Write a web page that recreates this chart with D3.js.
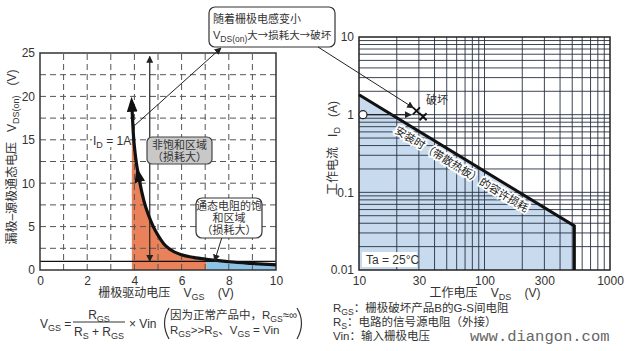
<!DOCTYPE html>
<html>
<head>
<meta charset="utf-8">
<script src="https://cdn.jsdelivr.net/npm/d3@7"></script>
<style>
  body { margin: 0; background: #fff; }
  svg { display: block; font-family: "Liberation Sans", "Noto Sans CJK SC", sans-serif; }
  svg text { white-space: pre; }
</style>
</head>
<body>
<svg width="625" height="351"></svg>
<script>
// left chart: VDS(on) vs VGS
const leftXTicks = [0, 2, 4, 6, 8, 10];
const leftYTicks = [0, 5, 10, 15, 20, 25];
const leftXGrid = [1, 2, 3, 4, 5, 6, 7, 8, 9];
const leftYGrid = [2.5, 5, 7.5, 10, 12.5, 15, 17.5, 20, 22.5];
const curveVGS = [3.9, 3.96, 4.05, 4.2, 4.4, 4.6, 4.8, 5.0, 5.25, 5.5, 6.0, 6.5, 7.0, 7.5, 8.0, 9.0, 10.0];
const curveVDS = [18.6, 15.5, 13, 10.5, 8, 6.3, 5, 4, 3, 2.4, 1.75, 1.45, 1.25, 1.1, 0.95, 0.75, 0.6];
const orangeRange = [3.88, 7.06];
const blueRange = [7.06, 10];
const orangeTop = 15.3;
const refLine = 1;       // solid horizontal line
const swingVGS = 4.65;   // double arrow
const swingVDS = [1, 24.6];

// right chart: safe operating area
const rightXTicks = [10, 30, 100, 300, 1000];
const rightYTicks = [0.01, 0.1, 1, 10];
const soaV = [10, 520, 520];
const soaI = [1.8, 0.037, 0.01];
const startPoint = [10, 1];
const arrowEndV = 26;
const breakV = [28.7, 32.4];
const breakI = [1.12, 0.94];

const svg = d3.select("svg");
const ink = "#333";

const defs = svg.append("defs");
defs.append("marker").attr("id", "ah")
    .attr("viewBox", "0 0 10 10").attr("refX", 9).attr("refY", 5)
    .attr("markerWidth", 7).attr("markerHeight", 7)
    .attr("markerUnits", "userSpaceOnUse")
    .attr("orient", "auto-start-reverse")
  .append("path").attr("d", "M0,0L10,5L0,10z").attr("fill", "#222");
defs.append("marker").attr("id", "ahBig")
    .attr("viewBox", "0 0 14 10").attr("refX", 3).attr("refY", 5)
    .attr("markerWidth", 15).attr("markerHeight", 11)
    .attr("markerUnits", "userSpaceOnUse")
    .attr("orient", "auto-start-reverse")
  .append("path").attr("d", "M0,0L14,5L0,10z").attr("fill", "#111");

// ---------- left chart ----------
const xL = d3.scaleLinear().domain([0, 10]).range([40, 276]);
const yL = d3.scaleLinear().domain([0, 25]).range([270, 53]);

const curve = curveVGS.map((v, i) => ({x: v, y: curveVDS[i]}));

defs.append("clipPath").attr("id", "clipOrange")
  .append("rect")
    .attr("x", xL(orangeRange[0])).attr("y", yL(orangeTop))
    .attr("width", xL(orangeRange[1]) - xL(orangeRange[0]))
    .attr("height", yL(0) - yL(orangeTop));
defs.append("clipPath").attr("id", "clipBlue")
  .append("rect")
    .attr("x", xL(blueRange[0])).attr("y", yL(25))
    .attr("width", xL(blueRange[1]) - xL(blueRange[0]))
    .attr("height", yL(0) - yL(25));

const areaL = d3.area()
    .x(d => xL(d.x)).y0(yL(0)).y1(d => yL(d.y))
    .curve(d3.curveMonotoneX);
const fillCurve = [{x: orangeRange[0], y: curve[0].y}].concat(curve);

svg.append("path").datum(fillCurve)
    .attr("d", areaL).attr("fill", "#e9825a")
    .attr("clip-path", "url(#clipOrange)");
svg.append("path").datum(fillCurve)
    .attr("d", areaL).attr("fill", "#8ec3e8")
    .attr("clip-path", "url(#clipBlue)");

// dashed grid
svg.append("g").selectAll("line").data(leftXGrid).join("line")
    .attr("x1", d => xL(d)).attr("x2", d => xL(d))
    .attr("y1", yL(0)).attr("y2", yL(25))
    .attr("stroke", "#555").attr("stroke-dasharray", "6,4").attr("stroke-width", 1);
svg.append("g").selectAll("line").data(leftYGrid).join("line")
    .attr("y1", d => yL(d)).attr("y2", d => yL(d))
    .attr("x1", xL(0)).attr("x2", xL(10))
    .attr("stroke", "#555").attr("stroke-dasharray", "6,4").attr("stroke-width", 1);

// reference line at 1 V
svg.append("line")
    .attr("x1", xL(0)).attr("x2", xL(10))
    .attr("y1", yL(refLine)).attr("y2", yL(refLine))
    .attr("stroke", "#111").attr("stroke-width", 1.2);

// frame
svg.append("rect")
    .attr("x", xL(0)).attr("y", yL(25))
    .attr("width", xL(10) - xL(0)).attr("height", yL(0) - yL(25))
    .attr("fill", "none").attr("stroke", ink).attr("stroke-width", 1.5);

// axes
const axL = svg.append("g").attr("transform", `translate(${xL(0)},0)`)
    .call(d3.axisLeft(yL).tickValues(leftYTicks).tickSize(0).tickPadding(5));
const axB = svg.append("g").attr("transform", `translate(0,${yL(0)})`)
    .call(d3.axisBottom(xL).tickValues(leftXTicks).tickSize(0).tickPadding(6));
[axL, axB].forEach(a => {
  a.select(".domain").remove();
  a.selectAll("text").attr("font-size", 12).attr("fill", ink)
    .attr("font-family", "Liberation Sans");
});

// double arrow (swing)
svg.append("line")
    .attr("x1", xL(swingVGS)).attr("x2", xL(swingVGS))
    .attr("y1", yL(swingVDS[0])).attr("y2", yL(swingVDS[1]))
    .attr("stroke", "#222").attr("stroke-width", 1.2)
    .attr("marker-start", "url(#ah)").attr("marker-end", "url(#ah)");

// thick curve with arrowhead at top
const lineL = d3.line().x(d => xL(d.x)).y(d => yL(d.y)).curve(d3.curveMonotoneX);
svg.append("path").datum(curve)
    .attr("d", lineL).attr("fill", "none")
    .attr("stroke", "#111").attr("stroke-width", 3.2)
    .attr("marker-start", "url(#ahBig)");
// mid arrowhead
svg.append("path").datum([curve[4], curve[3]])
    .attr("d", d3.line().x(d => xL(d.x)).y(d => yL(d.y)))
    .attr("fill", "none").attr("stroke", "none")
    .attr("marker-end", "url(#ahBig)");

// I_D = 1A label
svg.append("rect").attr("x", 92).attr("y", 134).attr("width", 38).attr("height", 13).attr("fill", "#fff");
const idl = svg.append("text").attr("x", 93).attr("y", 145).attr("font-size", 12).attr("fill", ink);
idl.append("tspan").text("I");
idl.append("tspan").attr("dy", 3).attr("font-size", 9).text("D");
idl.append("tspan").attr("dy", -3).text(" = 1A");

// callout: top box
svg.append("line")
    .attr("x1", xL(4.03)).attr("y1", yL(16.7))
    .attr("x2", 221).attr("y2", 48)
    .attr("stroke", "#222").attr("stroke-width", 1)
    .attr("marker-end", "url(#ah)");
svg.append("rect").attr("x", 209).attr("y", 7).attr("width", 126).attr("height", 40)
    .attr("rx", 6).attr("fill", "#fff").attr("stroke", ink).attr("stroke-width", 1.2);
svg.append("text").attr("x", 213).attr("y", 23).attr("font-size", 11).attr("fill", ink)
    .text("随着栅极电感变小");
const t2 = svg.append("text").attr("x", 213).attr("y", 39).attr("font-size", 11).attr("fill", ink);
t2.append("tspan").text("V");
t2.append("tspan").attr("dy", 3).attr("font-size", 8.5).text("DS(on)");
t2.append("tspan").attr("dy", -3).attr("font-family", "Noto Sans CJK SC").attr("font-size", 10.5)
    .text("大→损耗大→破坏");

// gray box
svg.append("rect").attr("x", 147).attr("y", 137).attr("width", 65).attr("height", 27)
    .attr("rx", 5).attr("fill", "#c8c8c8").attr("stroke", "#444").attr("stroke-width", 1.2);
svg.append("text").attr("x", 179.5).attr("y", 149).attr("text-anchor", "middle")
    .attr("font-size", 11).attr("fill", ink).text("非饱和区域");
svg.append("text").attr("x", 179.5).attr("y", 161).attr("text-anchor", "middle")
    .attr("font-size", 11).attr("fill", ink).text("（损耗大）");

// white box 2
svg.append("line")
    .attr("x1", 222).attr("y1", 237).attr("x2", xL(7.4)).attr("y2", yL(1.05))
    .attr("stroke", "#222").attr("stroke-width", 1)
    .attr("marker-end", "url(#ah)");
svg.append("rect").attr("x", 196).attr("y", 198).attr("width", 66).attr("height", 40)
    .attr("rx", 6).attr("fill", "#fff").attr("stroke", ink).attr("stroke-width", 1.2);
["通态电阻的饱", "和区域", "（损耗大）"].forEach((s, i) => {
  svg.append("text").attr("x", 229).attr("y", 210 + i * 12).attr("text-anchor", "middle")
      .attr("font-size", 11).attr("fill", ink).text(s);
});

// left axis titles
const ylab = svg.append("text")
    .attr("transform", "translate(16,157) rotate(-90)")
    .attr("text-anchor", "middle").attr("font-size", 12).attr("fill", ink);
ylab.append("tspan").text("漏极–源极通态电压   V");
ylab.append("tspan").attr("dy", 3).attr("font-size", 9).text("DS(on)");
ylab.append("tspan").attr("dy", -3).text("   (V)");

const xlab = svg.append("text").attr("x", 166).attr("y", 297)
    .attr("text-anchor", "middle").attr("font-size", 12).attr("fill", ink);
xlab.append("tspan").text("栅极驱动电压    V");
xlab.append("tspan").attr("dy", 2.5).attr("font-size", 9).text("GS");
xlab.append("tspan").attr("dy", -2.5).text("    (V)");

// formula
function subText(x, y, parts, anchor, size) {
  const fs = size || 12;
  const t = svg.append("text").attr("x", x).attr("y", y).attr("font-size", fs)
      .attr("fill", ink).attr("text-anchor", anchor || "start");
  let down = false;
  parts.forEach(p => {
    if (p[1]) {
      t.append("tspan").attr("dy", 3).attr("font-size", fs * 0.75).text(p[0]);
      down = true;
    } else {
      t.append("tspan").attr("dy", down ? -3 : 0).text(p[0]);
      down = false;
    }
  });
  return t;
}
subText(40, 328, [["V"], ["GS", 1], [" ="]]);
subText(99, 319, [["R"], ["GS", 1]], "middle");
svg.append("line").attr("x1", 73).attr("x2", 125).attr("y1", 322).attr("y2", 322)
    .attr("stroke", ink).attr("stroke-width", 1);
subText(99, 336, [["R"], ["S", 1], [" + R"], ["GS", 1]], "middle");
subText(129, 328, [["× Vin"]]);
svg.append("path").attr("d", "M169,308 Q160,323 169,339").attr("fill", "none")
    .attr("stroke", ink).attr("stroke-width", 1.2);
svg.append("path").attr("d", "M297,308 Q306,323 297,339").attr("fill", "none")
    .attr("stroke", ink).attr("stroke-width", 1.2);
subText(170, 319, [["因为正常产品中，R"], ["GS", 1], ["≈∞"]], "start", 11.5);
subText(170, 334, [["R"], ["GS", 1], [">>R"], ["S", 1], ["、V"], ["GS", 1], [" = Vin"]], "start", 11.5);

// ---------- right chart ----------
const xR = d3.scaleLog().domain([10, 1000]).range([359, 610]);
const yR = d3.scaleLog().domain([0.01, 10]).range([270, 37]);
const soa = soaV.map((v, i) => ({v: v, i: soaI[i]}));

// blue fill
const fillPts = [{v: 10, i: 0.01}].concat(soa);
svg.append("path").datum(fillPts)
    .attr("d", d3.line().x(d => xR(d.v)).y(d => yR(d.i)))
    .attr("fill", "#c8dbee");

// log grid
const gridX = [], gridY = [];
[10, 100].forEach(b => d3.range(2, 10).forEach(k => gridX.push(b * k)));
[0.01, 0.1, 1].forEach(b => d3.range(2, 10).forEach(k => gridY.push(b * k)));
gridX.push(100); gridY.push(0.1, 1);
svg.append("g").selectAll("line").data(gridX).join("line")
    .attr("x1", d => xR(d)).attr("x2", d => xR(d))
    .attr("y1", yR(0.01)).attr("y2", yR(10))
    .attr("stroke", "#26303f").attr("stroke-width", 0.9);
svg.append("g").selectAll("line").data(gridY).join("line")
    .attr("y1", d => yR(d)).attr("y2", d => yR(d))
    .attr("x1", xR(10)).attr("x2", xR(1000))
    .attr("stroke", "#26303f").attr("stroke-width", 0.9);

svg.append("rect")
    .attr("x", xR(10)).attr("y", yR(10))
    .attr("width", xR(1000) - xR(10)).attr("height", yR(0.01) - yR(10))
    .attr("fill", "none").attr("stroke", "#222").attr("stroke-width", 1.5);

// SOA boundary
svg.append("path").datum(soa)
    .attr("d", d3.line().x(d => xR(d.v)).y(d => yR(d.i)))
    .attr("fill", "none").attr("stroke", "#111").attr("stroke-width", 3);

// axes
const axR = svg.append("g").attr("transform", `translate(${xR(10)},0)`)
    .call(d3.axisLeft(yR).tickValues(rightYTicks).tickFormat(d => String(d)).tickSize(0).tickPadding(5));
const axRB = svg.append("g").attr("transform", `translate(0,${yR(0.01)})`)
    .call(d3.axisBottom(xR).tickValues(rightXTicks).tickFormat(d => String(d)).tickSize(0).tickPadding(6));
[axR, axRB].forEach(a => {
  a.select(".domain").remove();
  a.selectAll("text").attr("font-size", 12).attr("fill", ink)
    .attr("font-family", "Liberation Sans");
});

// diagonal label
const p0 = [xR(soa[0].v), yR(soa[0].i)], p1 = [xR(soa[1].v), yR(soa[1].i)];
const ang = Math.atan2(p1[1] - p0[1], p1[0] - p0[0]) * 180 / Math.PI;
const mx = 467, my = p0[1] + (mx - p0[0]) * (p1[1] - p0[1]) / (p1[0] - p0[0]);
svg.append("text")
    .attr("transform", `translate(${mx},${my}) rotate(${ang}) translate(0,14)`)
    .attr("text-anchor", "middle").attr("font-size", 11).attr("fill", "#222")
    .attr("stroke", "#fff").attr("stroke-width", 3.5).attr("paint-order", "stroke")
    .text("安装时（带散热板）的容许损耗");

// start point arrow and breakdown marks
svg.append("line")
    .attr("x1", xR(startPoint[0]) + 4).attr("x2", xR(arrowEndV))
    .attr("y1", yR(startPoint[1])).attr("y2", yR(startPoint[1]))
    .attr("stroke", "#222").attr("stroke-width", 1.2)
    .attr("marker-end", "url(#ah)");
svg.append("circle")
    .attr("cx", xR(startPoint[0]) + 4).attr("cy", yR(startPoint[1])).attr("r", 4)
    .attr("fill", "#fff").attr("stroke", "#222").attr("stroke-width", 1.2);
svg.append("g").selectAll("path").data(breakV.map((v, i) => [v, breakI[i]])).join("path")
    .attr("d", d => {
      const x = xR(d[0]), y = yR(d[1]), s = 3.5;
      return `M${x - s},${y - s}L${x + s},${y + s}M${x - s},${y + s}L${x + s},${y - s}`;
    })
    .attr("stroke", "#111").attr("stroke-width", 1.8);
svg.append("text").attr("x", 426).attr("y", 104).attr("font-size", 11).attr("fill", ink).text("破坏");

// callout arrow from top box to breakdown
svg.append("line")
    .attr("x1", 318).attr("y1", 47)
    .attr("x2", xR(breakV[0]) - 3).attr("y2", yR(breakI[0]) - 3)
    .attr("stroke", "#222").attr("stroke-width", 1)
    .attr("marker-end", "url(#ah)");

// Ta box
svg.append("rect").attr("x", 362).attr("y", 252).attr("width", 55).attr("height", 15).attr("fill", "#fff");
svg.append("text").attr("x", 366).attr("y", 264).attr("font-size", 12).attr("fill", ink).text("Ta = 25°C");

// right axis titles
const ylabR = svg.append("text")
    .attr("transform", "translate(337,148) rotate(-90)")
    .attr("text-anchor", "middle").attr("font-size", 12).attr("fill", ink);
ylabR.append("tspan").text("工作电流   I");
ylabR.append("tspan").attr("dy", 3).attr("font-size", 9).text("D");
ylabR.append("tspan").attr("dy", -3).text("   (A)");

const xlabR = svg.append("text").attr("x", 485).attr("y", 297)
    .attr("text-anchor", "middle").attr("font-size", 12).attr("fill", ink);
xlabR.append("tspan").text("工作电压    V");
xlabR.append("tspan").attr("dy", 2.5).attr("font-size", 9).text("DS");
xlabR.append("tspan").attr("dy", -2.5).text("    (V)");

// notes
subText(333, 312, [["R"], ["GS", 1], ["：栅极破坏产品B的G-S间电阻"]], "start", 11.5);
subText(333, 326, [["R"], ["S", 1], ["：电路的信号源电阻（外接）"]], "start", 11.5);
subText(333, 340, [["Vin：输入栅极电压"]], "start", 11.5);

// watermark
svg.append("text").attr("x", 470).attr("y", 341)
    .attr("font-family", "Liberation Mono").attr("font-size", 15.5).attr("fill", "#666")
    .text("www.diangon.com");
</script>
</body>
</html>
